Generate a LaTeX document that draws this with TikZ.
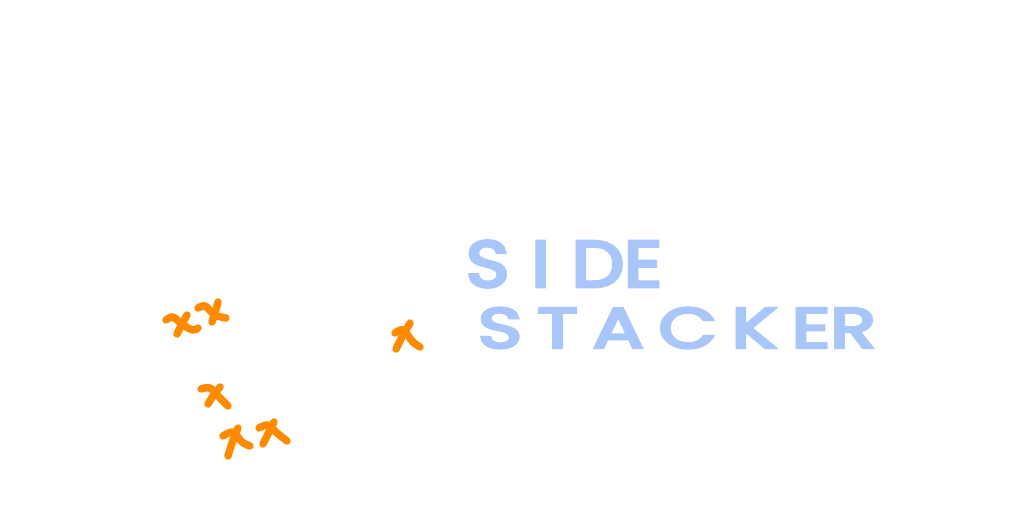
\documentclass[tikz,border=0pt]{standalone}
\usepackage{fontspec}
\usepackage{graphicx}
\newfontfamily\handfont[FakeBold=5]{Poppins}
\definecolor{inkblue}{RGB}{168,198,250}
\definecolor{inkorange}{RGB}{255,138,0}
\begin{document}
\begin{tikzpicture}[x=1pt,y=-1pt,
  handtext/.style={text=inkblue,inner sep=0pt,font=\handfont\fontsize{50}{50}\selectfont},
  oxstroke/.style={draw=inkorange,line width=7.5pt,line cap=round,line join=round}]
\useasboundingbox[fill=white] (0,0) rectangle (1024,512);
% handwritten words
\node[handtext] (side) at (564,264) {\resizebox{196pt}{46pt}{{\addfontfeature{LetterSpace=30}SID}E}};
\node[handtext] (stacker) at (677,328) {\resizebox{398pt}{40pt}{{\addfontfeature{LetterSpace=20}STACKE}R}};
% orange crosses
\draw[oxstroke] plot[smooth] coordinates {(166,320) (173,317) (183,325) (193,330) (198,328)};
\draw[oxstroke] plot[smooth] coordinates {(187,315) (181,326) (177,334)};
\draw[oxstroke] plot[smooth] coordinates {(198,308) (205,306) (215,315) (226,318)};
\draw[oxstroke] plot[smooth] coordinates {(218,302) (215,313) (212,322)};
\draw[oxstroke] plot[smooth] coordinates {(395,333) (403,330) (413,342) (420,347)};
\draw[oxstroke] plot[smooth] coordinates {(410,323) (402,337) (396,349)};
\draw[oxstroke] plot[smooth] coordinates {(201,389) (210,388) (220,398) (228,406)};
\draw[oxstroke] plot[smooth] coordinates {(220,387) (213,396) (208,404)};
\draw[oxstroke] plot[smooth] coordinates {(223,436) (233,432) (242,442) (250,446)};
\draw[oxstroke] plot[smooth] coordinates {(238,428) (232,443) (228,456)};
\draw[oxstroke] plot[smooth] coordinates {(259,428) (268,425) (277,433) (287,441)};
\draw[oxstroke] plot[smooth] coordinates {(274,422) (268,434) (263,444)};
\end{tikzpicture}
\end{document}
